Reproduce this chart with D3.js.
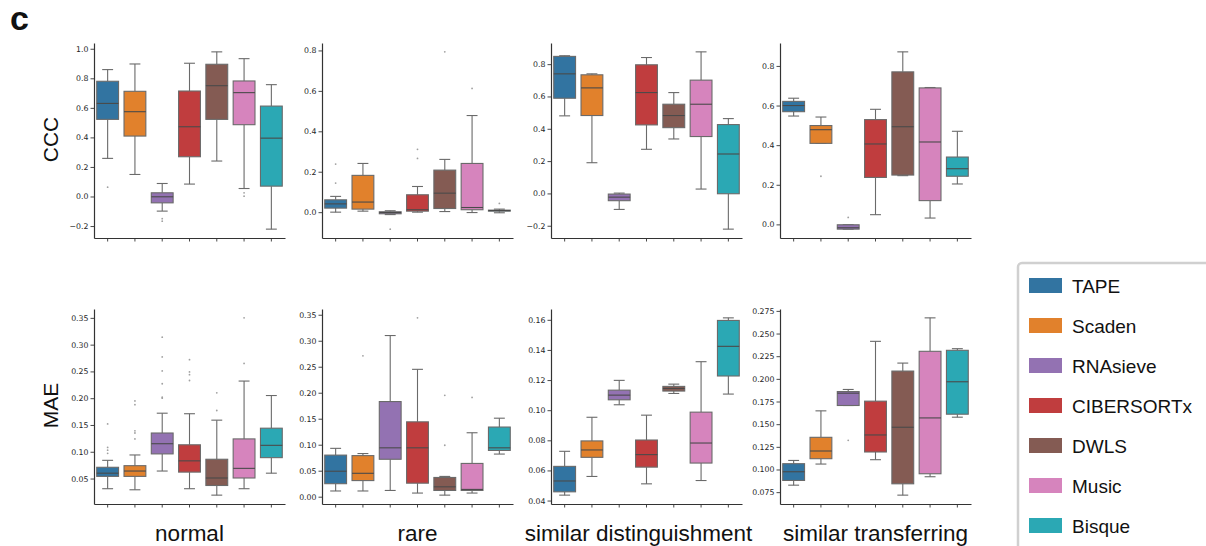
<!DOCTYPE html>
<html lang="en">
<head>
<meta charset="UTF-8">
<title>CCC / MAE boxplots</title>
<script src="https://cdn.jsdelivr.net/npm/d3@7"></script>
<style>
  body { margin:0; background:#fff; }
  svg { display:block; }
  .tick text { font-family:"DejaVu Sans",sans-serif; font-size:7.8px; fill:#262626; }
  .big { font-family:"Liberation Sans",Arial,sans-serif; fill:#111; }
</style>
</head>
<body>
<svg id="chart" width="1206" height="546"></svg>
<script>
// methods + palette (seaborn desaturated tab10)
var methods=['TAPE','Scaden','RNAsieve','CIBERSORTx','DWLS','Music','Bisque']
var colores=['#3274a1','#e1812c','#9372b2','#c03d3e','#845b53','#d684bd','#2ba8b4']
var scenarios=['normal','rare','similar distinguishment','similar transferring']
var metrics=['CCC','MAE']

// box stats per method: [low whisker, q1, median, q3, high whisker]
var cccNormal=[[0.258,0.522,0.63,0.78,0.859],[0.149,0.409,0.574,0.712,0.897],[-0.099,-0.043,-0.002,0.025,0.088],
  [0.084,0.269,0.472,0.714,0.902],[0.24,0.522,0.75,0.895,0.979],[0.054,0.486,0.703,0.782,0.933],[-0.221,0.07,0.395,0.612,0.757]]
var cccNormalOut=[[0.063],[],[-0.15,-0.167],[],[],[0.025,0.002],[]]
var cccRare=[[0.0,0.02,0.041,0.061,0.078],[0.005,0.015,0.05,0.182,0.241],[-0.012,-0.008,-0.002,0.002,0.007],
  [0.0,0.005,0.012,0.086,0.127],[0.003,0.018,0.094,0.208,0.261],[-0.002,0.012,0.023,0.241,0.478],[-0.003,0.005,0.008,0.01,0.015]]
var cccRareOut=[[0.238,0.144],[],[-0.084],[0.311,0.266],[0.793],[0.612],[0.043]]
var cccSimDist=[[0.48,0.589,0.74,0.848,0.852],[0.19,0.482,0.653,0.734,0.74],[-0.099,-0.045,-0.023,-0.004,0.002],
  [0.273,0.424,0.624,0.796,0.841],[0.337,0.407,0.482,0.552,0.624],[0.027,0.352,0.552,0.701,0.876],[-0.221,-0.002,0.244,0.426,0.463]]
var cccSimDistOut=[[],[],[],[],[],[],[]]
var cccSimTrans=[[0.547,0.569,0.6,0.621,0.637],[0.409,0.409,0.478,0.499,0.542],[-0.024,-0.024,-0.017,-0.002,-0.002],
  [0.049,0.237,0.406,0.529,0.581],[0.246,0.249,0.493,0.77,0.871],[0.032,0.12,0.416,0.689,0.691],[0.204,0.243,0.281,0.34,0.47]]
var cccSimTransOut=[[],[0.243],[0.035],[],[],[],[]]

var maeNormal=[[0.031,0.054,0.06,0.071,0.084],[0.029,0.054,0.064,0.074,0.094],[0.064,0.096,0.115,0.135,0.172],
  [0.031,0.062,0.083,0.113,0.171],[0.019,0.037,0.051,0.086,0.159],[0.031,0.051,0.069,0.124,0.232],[0.06,0.089,0.112,0.144,0.205]]
var maeNormalOut=[[0.152,0.108,0.103,0.097],[0.195,0.188,0.139,0.135,0.124],[0.314,0.277,0.251,0.227,0.202,0.2],
  [0.272,0.249,0.244,0.233],[0.21,0.177],[0.35,0.265],[]]
var maeRare=[[0.011,0.025,0.049,0.08,0.093],[0.011,0.031,0.045,0.079,0.083],[0.012,0.072,0.094,0.183,0.31],
  [0.007,0.026,0.094,0.144,0.245],[0.003,0.012,0.019,0.037,0.039],[0.007,0.012,0.014,0.064,0.123],[0.082,0.089,0.094,0.134,0.151]]
var maeRareOut=[[],[0.271],[],[0.344],[0.195,0.099],[0.191],[]]
var maeSimDist=[[0.0436,0.0458,0.053,0.0627,0.0727],[0.056,0.0687,0.0736,0.0796,0.0953],[0.1036,0.1069,0.11,0.1133,0.1198],
  [0.0511,0.0622,0.0705,0.0802,0.0967],[0.1111,0.1127,0.1144,0.1158,0.1173],[0.0533,0.0649,0.0782,0.0987,0.1322],[0.1107,0.1227,0.1424,0.1596,0.1613]]
var maeSimDistOut=[[],[],[],[],[],[],[]]
var maeSimTrans=[[0.0827,0.0879,0.0975,0.1064,0.110],[0.106,0.1119,0.1204,0.1355,0.1647],[0.1706,0.1706,0.1842,0.186,0.1883],
  [0.1108,0.1193,0.1381,0.1754,0.2414],[0.0717,0.0842,0.1466,0.2086,0.2174],[0.092,0.0953,0.1569,0.2304,0.2673],[0.1577,0.161,0.1968,0.2315,0.2333]]
var maeSimTransOut=[[],[],[0.1322],[],[],[],[]]

// y tick labels per panel
var ticksCccNormal=['−0.2','0.0','0.2','0.4','0.6','0.8','1.0']
var ticksCccRare=['0.0','0.2','0.4','0.6','0.8']
var ticksCccSimDist=['−0.2','0.0','0.2','0.4','0.6','0.8']
var ticksCccSimTrans=['0.0','0.2','0.4','0.6','0.8']
var ticksMaeNormal=['0.05','0.10','0.15','0.20','0.25','0.30','0.35']
var ticksMaeRare=['0.00','0.05','0.10','0.15','0.20','0.25','0.30','0.35']
var ticksMaeSimDist=['0.04','0.06','0.08','0.10','0.12','0.14','0.16']
var ticksMaeSimTrans=['0.075','0.100','0.125','0.150','0.175','0.200','0.225','0.250','0.275']

var paneles=[
  {row:0,col:0,box:cccNormal,out:cccNormalOut,ticks:ticksCccNormal},
  {row:0,col:1,box:cccRare,out:cccRareOut,ticks:ticksCccRare},
  {row:0,col:2,box:cccSimDist,out:cccSimDistOut,ticks:ticksCccSimDist},
  {row:0,col:3,box:cccSimTrans,out:cccSimTransOut,ticks:ticksCccSimTrans},
  {row:1,col:0,box:maeNormal,out:maeNormalOut,ticks:ticksMaeNormal},
  {row:1,col:1,box:maeRare,out:maeRareOut,ticks:ticksMaeRare},
  {row:1,col:2,box:maeSimDist,out:maeSimDistOut,ticks:ticksMaeSimDist},
  {row:1,col:3,box:maeSimTrans,out:maeSimTransOut,ticks:ticksMaeSimTrans}
]

// layout
var colX=[94,322,551,780], rowY=[43,309]
var ancho=191, alto=195
var lineCol='#6a6a6a', spineCol='#333'

var svg=d3.select('#chart')

paneles.forEach(function(p) {
  var g=svg.append('g').attr('transform','translate('+colX[p.col]+','+rowY[p.row]+')')
  // matplotlib style autoscale: data extent + 5%
  var vals=[]
  p.box.forEach(function(b,i){ vals.push(b[0],b[4]); vals=vals.concat(p.out[i]) })
  var lo=d3.min(vals), hi=d3.max(vals), pad=(hi-lo)*0.05
  var y=d3.scaleLinear().domain([lo-pad,hi+pad]).range([alto,0])
  var x=d3.scaleBand().domain(methods).range([0,ancho]).paddingInner(0).paddingOuter(0)
  var bw=x.bandwidth()*0.8, cw=bw*0.5

  var items=g.selectAll('g.item').data(p.box).enter().append('g').attr('class','item')
    .attr('transform',function(d,i){return 'translate('+(x(methods[i])+x.bandwidth()/2)+',0)'})
  // whiskers
  items.append('line').attr('x1',0).attr('x2',0)
    .attr('y1',function(d){return y(d[0])}).attr('y2',function(d){return y(d[1])})
    .attr('stroke',lineCol).attr('stroke-width',1.1)
  items.append('line').attr('x1',0).attr('x2',0)
    .attr('y1',function(d){return y(d[3])}).attr('y2',function(d){return y(d[4])})
    .attr('stroke',lineCol).attr('stroke-width',1.1)
  // caps
  items.append('line').attr('x1',-cw/2).attr('x2',cw/2)
    .attr('y1',function(d){return y(d[0])}).attr('y2',function(d){return y(d[0])})
    .attr('stroke',lineCol).attr('stroke-width',1.1)
  items.append('line').attr('x1',-cw/2).attr('x2',cw/2)
    .attr('y1',function(d){return y(d[4])}).attr('y2',function(d){return y(d[4])})
    .attr('stroke',lineCol).attr('stroke-width',1.1)
  // box
  items.append('rect').attr('x',-bw/2).attr('width',bw)
    .attr('y',function(d){return y(d[3])})
    .attr('height',function(d){return Math.max(0.8,y(d[1])-y(d[3]))})
    .attr('fill',function(d,i){return colores[i]})
    .attr('stroke',lineCol).attr('stroke-width',1.1)
  // median
  items.append('line').attr('x1',-bw/2).attr('x2',bw/2)
    .attr('y1',function(d){return y(d[2])}).attr('y2',function(d){return y(d[2])})
    .attr('stroke','#4a4a4a').attr('stroke-width',1.1)
  // outliers
  items.each(function(d,i){
    d3.select(this).selectAll('circle').data(p.out[i]).enter().append('circle')
      .attr('cx',0).attr('cy',function(v){return y(v)}).attr('r',0.9).attr('fill','#a0a0a0')
  })

  // axes
  var tickVals=p.ticks.map(function(t){return +t.replace('−','-')})
  var yAxis=g.append('g').call(d3.axisLeft(y).tickValues(tickVals)
    .tickFormat(function(v,i){return p.ticks[i]}).tickSize(3.5).tickSizeOuter(0).tickPadding(2))
  var xAxis=g.append('g').attr('transform','translate(0,'+alto+')')
    .call(d3.axisBottom(x).tickFormat('').tickSize(3.5).tickSizeOuter(0))
  ;[yAxis,xAxis].forEach(function(a){
    a.select('.domain').attr('stroke',spineCol).attr('stroke-width',1.2)
    a.selectAll('.tick line').attr('stroke',spineCol).attr('stroke-width',0.9)
  })
})

// row labels
metrics.forEach(function(m,r){
  svg.append('text').attr('class','big')
    .attr('transform','translate(58,'+(rowY[r]+alto/2-1)+') rotate(-90)')
    .attr('text-anchor','middle').style('font-size','21px').text(m)
})
// column labels
var labelShift=[0,0,-8,0]
scenarios.forEach(function(s,c){
  svg.append('text').attr('class','big')
    .attr('x',colX[c]+ancho/2+labelShift[c]).attr('y',541)
    .attr('text-anchor','middle').style('font-size','22.5px').text(s)
})
// panel letter
svg.append('text').attr('class','big').attr('x',10).attr('y',30)
  .style('font-size','34px').style('font-weight','bold').text('c')

// legend
var leg=svg.append('g').attr('transform','translate(1018,263)')
leg.append('rect').attr('width',220).attr('height',320).attr('rx',4)
  .attr('fill','#fff').attr('stroke','#d0d0d0').attr('stroke-width',2.5)
var legItems=leg.selectAll('g.li').data(methods).enter().append('g').attr('class','li')
  .attr('transform',function(d,i){return 'translate(0,'+(23+i*40)+')'})
legItems.append('rect').attr('x',11).attr('y',-8).attr('width',33).attr('height',15)
  .attr('fill',function(d,i){return colores[i]})
legItems.append('text').attr('class','big').attr('x',54).attr('y',7)
  .style('font-size','19px').text(function(d){return d})
</script>
</body>
</html>
